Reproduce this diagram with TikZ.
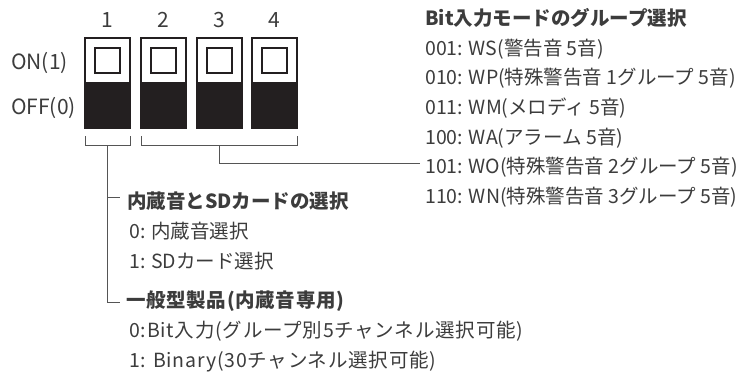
\documentclass[tikz,border=0pt]{standalone}
\usepackage{fontspec}
\setmainfont{Noto Sans CJK JP}
\definecolor{txt}{HTML}{3C3C3C}
\definecolor{ln}{HTML}{555555}
\definecolor{sw}{HTML}{231F20}
\begin{document}
\begin{tikzpicture}[x=1pt,y=-1pt,
  lbl/.style={anchor=west,inner sep=0pt,text=txt,font=\fontsize{19.5}{19.5}\selectfont},
  hd/.style={lbl,font=\fontsize{19.5}{19.5}\selectfont\bfseries},
  wide/.style={font=\fontsize{19.5}{19.5}\selectfont\addfontfeature{LetterSpace=4}},
  widehd/.style={font=\fontsize{19.5}{19.5}\selectfont\bfseries\addfontfeature{LetterSpace=3.5}},
  num/.style={inner sep=0pt,text=txt,font=\fontsize{21}{21}\selectfont},
  wire/.style={draw=ln,line width=0.9pt},
  swout/.style={draw=sw,line width=1.6pt}]
\useasboundingbox (0,0) rectangle (753,376);
% switches
\foreach \i/\x in {1/85,2/141,3/197,4/252}{
  \fill[sw] (\x,82) rectangle (\x+45,128);
  \draw[swout] (\x,38) rectangle (\x+45,128);
  \draw[sw,line width=2pt] (\x+10,48) rectangle (\x+35,73);
  \node[num] (n\i) at (\x+22.5,20) {\i};
  \coordinate (bl\i) at (\x,136);
  \coordinate (br\i) at (\x+45,136);
}
\node[num,anchor=west] (on) at (11,63) {ON(1)};
\node[num,anchor=west] (off) at (11,108) {OFF(0)};
% brackets
\draw[wire] (bl1) -- ++(0,9) -| (br1);
\draw[wire] (bl2) -- ++(0,9) -| (br4);
\coordinate (s1) at (107,145);
\coordinate (s2) at (219,145);
% right block
\node[hd] (rt) at (425,18) {Bit入力モードのグループ選択};
\node[lbl] (r1) at (425,49) {001: WS(警告音 5音)};
\node[lbl] (r2) at (425,78.5) {010: WP(特殊警告音 1グループ 5音)};
\node[lbl] (r3) at (425,108) {011: WM(メロディ 5音)};
\node[lbl] (r4) at (425,138) {100: WA(アラーム 5音)};
\node[lbl] (r5) at (425,167.5) {101: WO(特殊警告音 2グループ 5音)};
\node[lbl] (r6) at (425,197) {110: WN(特殊警告音 3グループ 5音)};
% left bottom
\node[hd] (lt) at (127,201) {内蔵音とSDカードの選択};
\node[lbl] (l1) at (129,231) {0: 内蔵音選択};
\node[lbl] (l2) at (129,261) {1: SDカード選択};
\node[hd,widehd] (bt) at (126,301) {一般型製品(内蔵音専用)};
\node[lbl,wide] (b1) at (129,331) {0:Bit入力(グループ別5チャンネル選択可能)};
\node[lbl,wide] (b2) at (129,362) {1: Binary(30チャンネル選択可能)};
% connectors
\coordinate (e2) at (420,163);
\coordinate (j1) at (107,197);
\coordinate (k1) at (120,197);
\coordinate (k2) at (120,302);
\draw[wire] (s2) |- (e2);
\draw[wire] (s1) |- (k2);
\draw[wire] (j1) -- (k1);
\end{tikzpicture}
\end{document}
